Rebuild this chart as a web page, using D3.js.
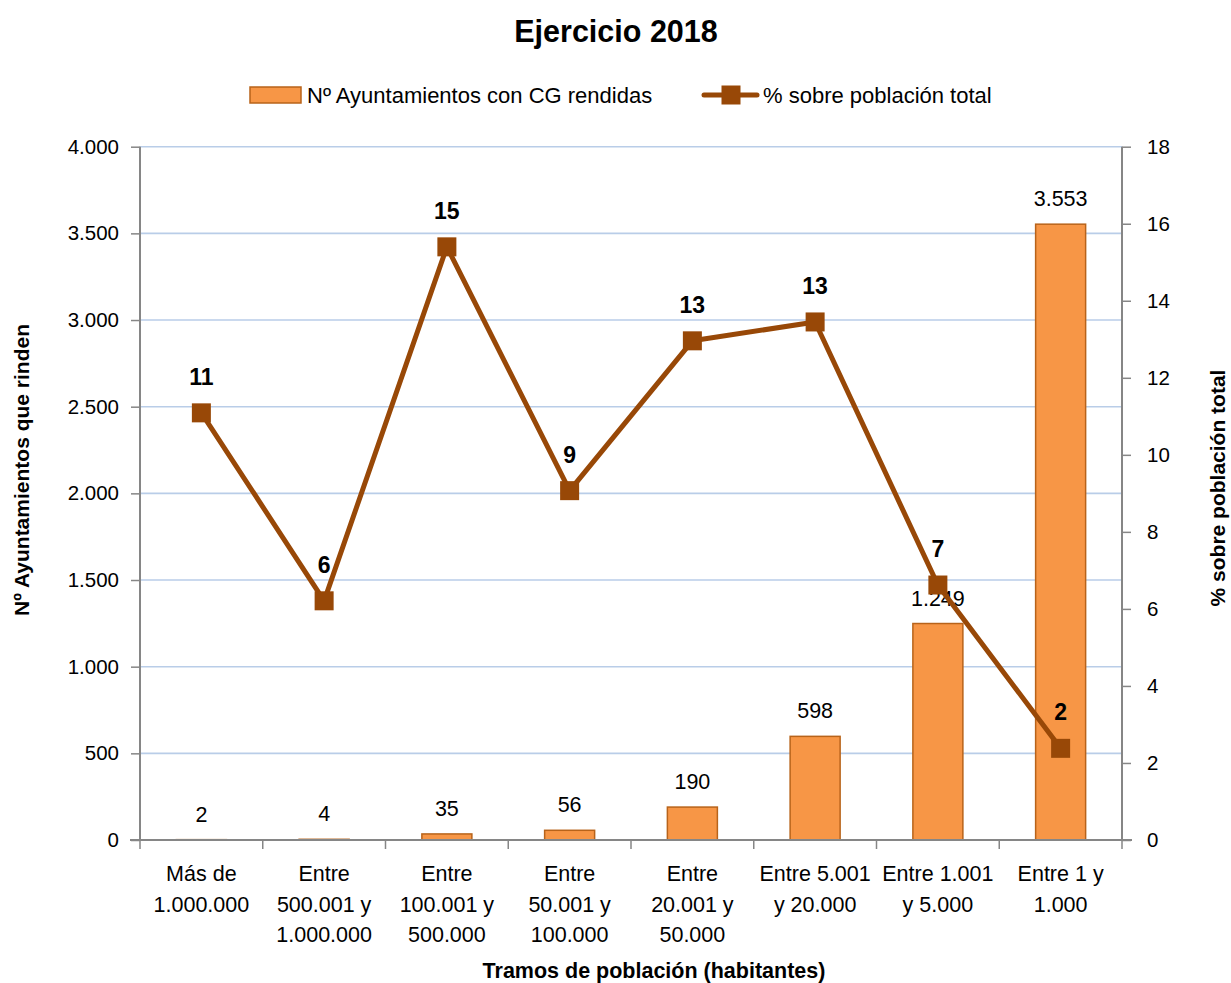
<!DOCTYPE html>
<html>
<head>
<meta charset="utf-8">
<script src="https://cdn.jsdelivr.net/npm/d3@7"></script>
<style>
  html, body { margin: 0; padding: 0; background: #ffffff; }
  svg { display: block; font-family: "Liberation Sans", Arial, sans-serif; }
</style>
</head>
<body>
<svg id="chart" width="1231" height="983"></svg>
<script>
// ---- Data ----
const categories = [
  ["Más de", "1.000.000"],
  ["Entre", "500.001 y", "1.000.000"],
  ["Entre", "100.001 y", "500.000"],
  ["Entre", "50.001 y", "100.000"],
  ["Entre", "20.001 y", "50.000"],
  ["Entre 5.001", "y 20.000"],
  ["Entre 1.001", "y 5.000"],
  ["Entre 1 y", "1.000"]
];
const ayuntamientos = [2, 4, 35, 56, 190, 598, 1249, 3553];
const porcentaje = [11.09, 6.21, 15.40, 9.07, 12.96, 13.45, 6.62, 2.38];
const leftTicks = [0, 500, 1000, 1500, 2000, 2500, 3000, 3500, 4000];
const rightTicks = [0, 2, 4, 6, 8, 10, 12, 14, 16, 18];
const title = "Ejercicio 2018";
const seriesNames = ["Nº Ayuntamientos con CG rendidas", "% sobre población total"];
const leftTitle = "Nº  Ayuntamientos que rinden";
const rightTitle = "% sobre población total";
const xTitle = "Tramos de población (habitantes)";

// ---- Layout ----
const svg = d3.select("#chart");
const plot = { left: 140, right: 1122, top: 146.7, bottom: 840 };
const barFill = "#F79646", barStroke = "#B8631A", lineColor = "#984807";
const axisColor = "#868686", gridColor = "#B9CDE8";
const fmt = d3.formatLocale({ decimal: ",", thousands: ".", grouping: [3], currency: ["", "€"] }).format(",d");

const x = d3.scaleBand().domain(d3.range(categories.length)).range([plot.left, plot.right]).paddingInner(0).paddingOuter(0);
const yL = d3.scaleLinear().domain([0, 4000]).range([plot.bottom, plot.top]);
const yR = d3.scaleLinear().domain([0, 18]).range([plot.bottom, plot.top]);
const barW = 50;
const cx = i => x(i) + x.bandwidth() / 2;

// Gridlines
svg.append("g").selectAll("line").data(leftTicks.filter(d => d > 0)).join("line")
  .attr("x1", plot.left).attr("x2", plot.right)
  .attr("y1", d => yL(d)).attr("y2", d => yL(d))
  .attr("stroke", gridColor).attr("stroke-width", 1.6);

// Bars
svg.append("g").selectAll("rect").data(ayuntamientos).join("rect")
  .attr("x", (d, i) => cx(i) - barW / 2)
  .attr("y", d => yL(d))
  .attr("width", barW)
  .attr("height", d => plot.bottom - yL(d))
  .attr("fill", barFill).attr("stroke", barStroke).attr("stroke-width", 1.5);

// Axes
const leftAxis = d3.axisLeft(yL).tickValues(leftTicks).tickFormat(fmt).tickSize(9).tickPadding(12);
const gL = svg.append("g").attr("transform", `translate(${plot.left},0)`).call(leftAxis);
const rightAxis = d3.axisRight(yR).tickValues(rightTicks).tickFormat(d3.format("d")).tickSize(9).tickPadding(16);
const gR = svg.append("g").attr("transform", `translate(${plot.right},0)`).call(rightAxis);
[gL, gR].forEach(g => {
  g.select(".domain").attr("stroke", axisColor).attr("stroke-width", 2).attr("d", `M0,${plot.top}V${plot.bottom}`);
  g.selectAll(".tick line").attr("stroke", axisColor).attr("stroke-width", 1.5);
  g.selectAll(".tick text").attr("fill", "#000").attr("font-size", 20.5).attr("font-family", "Liberation Sans, Arial, sans-serif");
});

// X axis
const gX = svg.append("g");
gX.append("line").attr("x1", plot.left - 10).attr("x2", plot.right + 10)
  .attr("y1", plot.bottom).attr("y2", plot.bottom).attr("stroke", axisColor).attr("stroke-width", 2);
const boundaries = d3.range(categories.length + 1).map(i => i < categories.length ? x(i) : plot.right);
gX.selectAll("line.tk").data(boundaries).join("line").attr("class", "tk")
  .attr("x1", d => d).attr("x2", d => d).attr("y1", plot.bottom).attr("y2", plot.bottom + 9)
  .attr("stroke", axisColor).attr("stroke-width", 1.5);
categories.forEach((lines, i) => {
  const t = gX.append("text").attr("text-anchor", "middle").attr("font-size", 21.5).attr("fill", "#000");
  lines.forEach((ln, j) => {
    t.append("tspan").attr("x", cx(i)).attr("y", 881 + j * 30.7).text(ln);
  });
});

// Bar labels
svg.append("g").selectAll("text").data(ayuntamientos).join("text")
  .attr("x", (d, i) => cx(i))
  .attr("y", d => yL(d) - 18)
  .attr("text-anchor", "middle").attr("font-size", 21.5).attr("fill", "#000")
  .text(d => fmt(d));

// Line
const line = d3.line().x((d, i) => cx(i)).y(d => yR(d));
svg.append("path").datum(porcentaje).attr("d", line)
  .attr("fill", "none").attr("stroke", lineColor).attr("stroke-width", 5).attr("stroke-linejoin", "round");
const mk = 19;
svg.append("g").selectAll("rect").data(porcentaje).join("rect")
  .attr("x", (d, i) => cx(i) - mk / 2).attr("y", d => yR(d) - mk / 2)
  .attr("width", mk).attr("height", mk).attr("fill", lineColor);
svg.append("g").selectAll("text").data(porcentaje).join("text")
  .attr("x", (d, i) => cx(i)).attr("y", d => yR(d) - 28)
  .attr("text-anchor", "middle").attr("font-size", 23).attr("font-weight", "bold").attr("fill", "#000")
  .text(d => Math.round(d));

// Title
svg.append("text").attr("x", 616).attr("y", 42).attr("text-anchor", "middle")
  .attr("font-size", 30.5).attr("font-weight", "bold").text(title);

// Legend
const lg = svg.append("g");
lg.append("rect").attr("x", 250).attr("y", 87).attr("width", 51).attr("height", 16)
  .attr("fill", barFill).attr("stroke", barStroke).attr("stroke-width", 1.5);
lg.append("text").attr("x", 307).attr("y", 103).attr("font-size", 22).text(seriesNames[0]);
lg.append("line").attr("x1", 704).attr("x2", 757).attr("y1", 95).attr("y2", 95)
  .attr("stroke", lineColor).attr("stroke-width", 5).attr("stroke-linecap", "round");
lg.append("rect").attr("x", 731 - mk / 2).attr("y", 95 - mk / 2).attr("width", mk).attr("height", mk).attr("fill", lineColor);
lg.append("text").attr("x", 763).attr("y", 103).attr("font-size", 22).text(seriesNames[1]);

// Axis titles
svg.append("text").attr("transform", "translate(29,470) rotate(-90)").attr("text-anchor", "middle")
  .attr("font-size", 21).attr("font-weight", "bold").text(leftTitle);
svg.append("text").attr("transform", "translate(1225,488) rotate(-90)").attr("text-anchor", "middle")
  .attr("font-size", 21).attr("font-weight", "bold").text(rightTitle);
svg.append("text").attr("x", 654).attr("y", 978).attr("text-anchor", "middle")
  .attr("font-size", 21.5).attr("font-weight", "bold").text(xTitle);
</script>
</body>
</html>
